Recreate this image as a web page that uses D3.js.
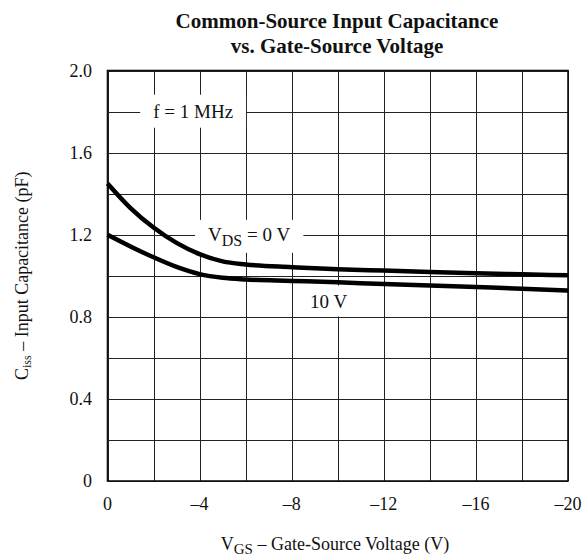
<!DOCTYPE html>
<html>
<head>
<meta charset="utf-8">
<script src="https://cdn.jsdelivr.net/npm/d3@7"></script>
<style>
  body { margin: 0; background: #fff; }
  text { font-family: "Liberation Serif", "Times New Roman", serif; fill: #111; }
</style>
</head>
<body>
<div id="chart"></div>
<script>
// gate-source voltage (V) and input capacitance (pF)
var vgs = [0, -1, -2, -3, -4, -5, -6, -8, -10, -12, -14, -16, -18, -20];
var cissVds0 = [1.45, 1.33, 1.235, 1.16, 1.105, 1.07, 1.055, 1.042, 1.032, 1.025, 1.018, 1.012, 1.007, 1.002];
var cissVds10 = [1.20, 1.143, 1.09, 1.043, 1.008, 0.99, 0.982, 0.975, 0.968, 0.96, 0.953, 0.945, 0.937, 0.928];

var xTicks = [0, -4, -8, -12, -16, -20];
var yTicks = [0, 0.4, 0.8, 1.2, 1.6, 2.0];
var xGrid = d3.range(0, -20.01, -2);
var yGrid = d3.range(0, 2.01, 0.2);

var w = 588, h = 558;
// plot box (note: "top" is taken by window.top, so use other names)
var plotL = 107.5, plotR = 568, plotT = 70.5, plotB = 481;

var svg = d3.select("#chart").append("svg")
    .attr("width", w)
    .attr("height", h);

var x = d3.scaleLinear().domain([0, -20]).range([plotL, plotR]);
var y = d3.scaleLinear().domain([0, 2.0]).range([plotB, plotT]);

// title
svg.append("text")
    .attr("x", 337).attr("y", 28)
    .attr("text-anchor", "middle")
    .attr("font-weight", "bold")
    .attr("font-size", 21)
    .text("Common-Source Input Capacitance");
svg.append("text")
    .attr("x", 337).attr("y", 53)
    .attr("text-anchor", "middle")
    .attr("font-weight", "bold")
    .attr("font-size", 21)
    .text("vs. Gate-Source Voltage");

// grid
var grid = svg.append("g").attr("stroke", "#222").attr("stroke-width", 1);
grid.selectAll(".vg")
    .data(xGrid)
    .enter().append("line")
    .attr("x1", d => Math.round(x(d)) + 0.5).attr("x2", d => Math.round(x(d)) + 0.5)
    .attr("y1", plotT).attr("y2", plotB);
grid.selectAll(".hg")
    .data(yGrid)
    .enter().append("line")
    .attr("y1", d => Math.round(y(d)) + 0.5).attr("y2", d => Math.round(y(d)) + 0.5)
    .attr("x1", plotL).attr("x2", plotR);

svg.append("rect")
    .attr("x", plotL).attr("y", plotT)
    .attr("width", plotR - plotL).attr("height", plotB - plotT)
    .attr("fill", "none")
    .attr("stroke", "#111")
    .attr("stroke-width", 1.6);

// tick labels
svg.selectAll(".xt")
    .data(xTicks)
    .enter().append("text")
    .attr("x", d => x(d))
    .attr("y", 510)
    .attr("text-anchor", "middle")
    .attr("font-size", 18)
    .text(d => d === 0 ? "0" : "\u2013" + Math.abs(d));

svg.selectAll(".yt")
    .data(yTicks)
    .enter().append("text")
    .attr("x", 92)
    .attr("y", d => y(d))
    .attr("dy", "0.35em")
    .attr("text-anchor", "end")
    .attr("font-size", 18)
    .text(d => d === 0 ? "0" : d.toFixed(1));

// axis titles
var xt = svg.append("text")
    .attr("x", 335).attr("y", 550)
    .attr("text-anchor", "middle")
    .attr("font-size", 18);
xt.append("tspan").text("V");
xt.append("tspan").attr("font-size", 15).attr("dy", 3.5).text("GS");
xt.append("tspan").attr("dy", -3.5).text(" \u2013 Gate-Source Voltage (V)");

var yt = svg.append("text")
    .attr("transform", "translate(28," + ((plotT + plotB) / 2) + ") rotate(-90)")
    .attr("text-anchor", "middle")
    .attr("font-size", 18);
yt.append("tspan").text("C");
yt.append("tspan").attr("font-size", 12).attr("dy", 3).text("iss");
yt.append("tspan").attr("dy", -3).text(" \u2013 Input Capacitance (pF)");

// labels with white boxes behind them (drawn before the curves)
function label(parts, vx, vy, padX, padY) {
    var g = svg.append("g");
    var box = g.append("rect").attr("fill", "#fff");
    var t = g.append("text")
        .attr("x", x(vx)).attr("y", y(vy))
        .attr("text-anchor", "middle")
        .attr("font-size", 19);
    parts.forEach(function (p) {
        var s = t.append("tspan").text(p.text);
        if (p.size) s.attr("font-size", p.size);
        if (p.dy) s.attr("dy", p.dy);
    });
    var b = t.node().getBBox();
    box.attr("x", b.x - padX).attr("y", b.y - padY)
        .attr("width", b.width + 2 * padX)
        .attr("height", b.height + 2 * padY);
}

label([{text: "f = 1 MHz"}], -3.72, 1.77, 13, 6);
label([{text: "V"}, {text: "DS", size: 16, dy: 5}, {text: " = 0 V", dy: -5}], -6.15, 1.17, 13, 4);
label([{text: "10 V"}], -9.6, 0.845, 6, 5);

// curves
var line = d3.line()
    .x((d, i) => x(vgs[i]))
    .y(d => y(d))
    .curve(d3.curveMonotoneX);

svg.append("path")
    .datum(cissVds0)
    .attr("d", line)
    .attr("fill", "none")
    .attr("stroke", "#000")
    .attr("stroke-width", 4.5);

svg.append("path")
    .datum(cissVds10)
    .attr("d", line)
    .attr("fill", "none")
    .attr("stroke", "#000")
    .attr("stroke-width", 4.5);
</script>
</body>
</html>
